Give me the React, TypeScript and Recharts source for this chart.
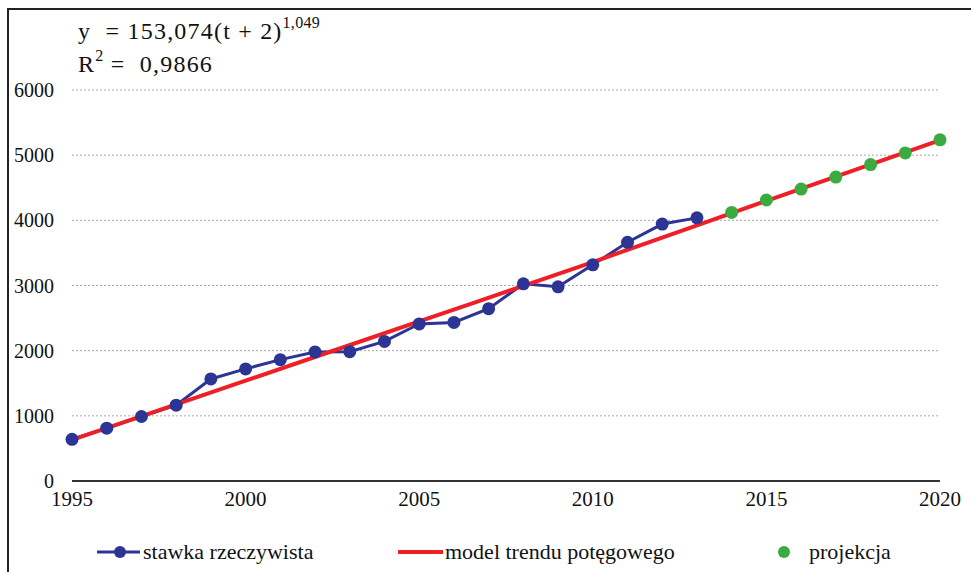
import React from 'react';
import { LineChart, Line, XAxis, YAxis, CartesianGrid } from 'recharts';

const actualYears = [1995, 1996, 1997, 1998, 1999, 2000, 2001, 2002, 2003, 2004, 2005, 2006, 2007, 2008, 2009, 2010, 2011, 2012, 2013];
const actualValues = [640, 811, 990, 1163, 1566, 1720, 1862, 1980, 1985, 2142, 2410, 2433, 2645, 3025, 2980, 3317, 3663, 3943, 4038];
const trendYears = [1995, 2000, 2005, 2010, 2015, 2020];
const trendValues = [630, 1540, 2450, 3360, 4300, 5230];
const projectionYears = [2014, 2015, 2016, 2017, 2018, 2019, 2020];
const projectionValues = [4122, 4312, 4480, 4664, 4855, 5034, 5235];
const xTicks = [1995, 2000, 2005, 2010, 2015, 2020];
const yTicks = [0, 1000, 2000, 3000, 4000, 5000, 6000];

const seriesNames = ['stawka rzeczywista', 'model trendu potęgowego', 'projekcja'];

const actualData = actualYears.map((year, i) => ({ year, value: actualValues[i] }));
const trendData = trendYears.map((year, i) => ({ year, value: trendValues[i] }));
const projectionData = projectionYears.map((year, i) => ({ year, value: projectionValues[i] }));

const BLUE = '#2c3593';
const RED = '#ee1f26';
const GREEN = '#3bab40';
const FONT = "'Liberation Serif', 'DejaVu Serif', 'Noto Serif', serif";

const supStyle: React.CSSProperties = { fontSize: 16, verticalAlign: 0, position: 'relative', top: -11, letterSpacing: 0.3 };

export default function App() {
  return (
    <div style={{ position: 'fixed', left: 0, top: 0, width: 971, height: 572, background: '#fff', overflow: 'hidden' }}>
      <div style={{ position: 'absolute', left: 7, top: 8, width: 1000, height: 1000, borderLeft: '2px solid #222', borderTop: '2px solid #222' }} />
      <div style={{ position: 'absolute', left: 0, top: 0 }}>
        <LineChart width={971} height={572} margin={{ top: 90, right: 31, left: 0, bottom: 61 }} style={{ fontFamily: FONT }}>
          <CartesianGrid horizontal vertical={false} stroke="#a8a8a8" strokeDasharray="2 2" />
          <XAxis
            dataKey="year"
            type="number"
            domain={[1995, 2020]}
            ticks={xTicks}
            allowDuplicatedCategory={false}
            height={30}
            tickSize={0}
            tickMargin={10}
            axisLine={{ stroke: '#333', strokeWidth: 2 }}
            tick={{ fill: '#111', fontSize: 21, fontFamily: FONT }}
          />
          <YAxis
            type="number"
            domain={[0, 6000]}
            ticks={yTicks}
            width={72}
            tickSize={0}
            tickMargin={18}
            axisLine={false}
            tick={{ fill: '#111', fontSize: 20, fontFamily: FONT }}
          />
          <Line
            data={actualData}
            dataKey="value"
            name={seriesNames[0]}
            stroke={BLUE}
            strokeWidth={3}
            dot={{ r: 6.5, fill: BLUE, stroke: BLUE, strokeWidth: 0 }}
            isAnimationActive={false}
          />
          <Line
            data={trendData}
            dataKey="value"
            name={seriesNames[1]}
            stroke={RED}
            strokeWidth={4}
            dot={false}
            type="monotone"
            isAnimationActive={false}
          />
          <Line
            data={projectionData}
            dataKey="value"
            name={seriesNames[2]}
            stroke="none"
            dot={{ r: 6.5, fill: GREEN, stroke: GREEN, strokeWidth: 0 }}
            isAnimationActive={false}
          />
        </LineChart>
      </div>
      <div style={{ position: 'absolute', left: 78, top: 16, fontFamily: FONT, fontSize: 24, letterSpacing: 1.2, color: '#111', lineHeight: '31px', whiteSpace: 'nowrap' }}>
        <div>y&nbsp; = 153,074(t + 2)<sup style={supStyle}>1,049</sup></div>
        <div>R<sup style={supStyle}>2</sup> =&nbsp; 0,9866</div>
      </div>
      <div style={{ position: 'absolute', left: 0, top: 538, width: 971, height: 28, fontFamily: FONT, fontSize: 22, color: '#111' }}>
        <div style={{ position: 'absolute', left: 97, top: 0, display: 'flex', alignItems: 'center', height: 28 }}>
          <svg width={43} height={14} style={{ marginRight: 3 }}>
            <line x1={0} y1={7} x2={43} y2={7} stroke={BLUE} strokeWidth={3} />
            <circle cx={23} cy={7} r={6} fill={BLUE} />
          </svg>
          <span>{seriesNames[0]}</span>
        </div>
        <div style={{ position: 'absolute', left: 398, top: 0, display: 'flex', alignItems: 'center', height: 28 }}>
          <svg width={45} height={14} style={{ marginRight: 2 }}>
            <line x1={0} y1={7} x2={45} y2={7} stroke={RED} strokeWidth={4} />
          </svg>
          <span>{seriesNames[1]}</span>
        </div>
        <div style={{ position: 'absolute', left: 777, top: 0, display: 'flex', alignItems: 'center', height: 28 }}>
          <svg width={14} height={14} style={{ marginRight: 18 }}>
            <circle cx={7} cy={7} r={6} fill={GREEN} />
          </svg>
          <span>{seriesNames[2]}</span>
        </div>
      </div>
    </div>
  );
}
